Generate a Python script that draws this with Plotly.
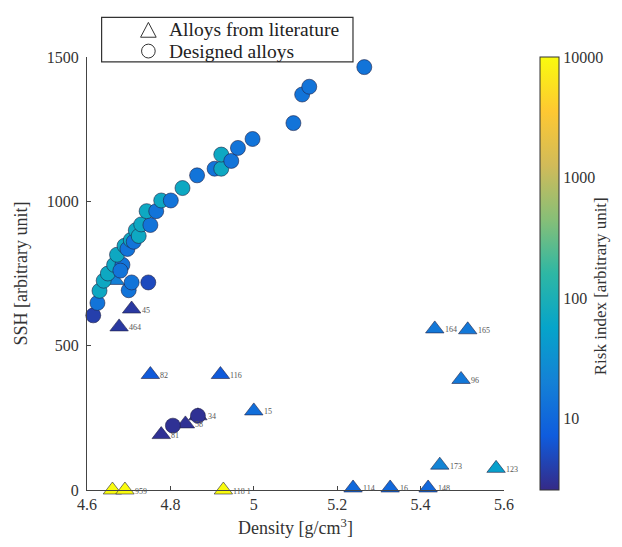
import numpy as np
import plotly.graph_objects as go

# Designed alloys (density, SSH, risk index)
des_density = [4.615, 4.625, 4.630, 4.640, 4.650, 4.665, 4.685, 4.672, 4.680, 4.690,
               4.697, 4.705, 4.712, 4.717, 4.724, 4.730, 4.752, 4.743, 4.766, 4.778,
               4.801, 4.829, 4.864, 4.906, 4.922, 4.922, 4.946, 4.962, 4.997, 5.095,
               5.116, 5.133, 5.265, 4.700, 4.707, 4.747, 4.806, 4.866]
des_ssh = [605, 648, 690, 725, 750, 780, 780, 815, 760, 846,
           835, 866, 860, 900, 880, 920, 918, 966, 966, 1003,
           1003, 1046, 1090, 1113, 1113, 1162, 1140, 1185, 1216, 1271,
           1370, 1397, 1465, 692, 719, 719, 223, 257]
des_risk = [4, 14, 70, 70, 70, 70, 14, 70, 14, 70,
            14, 70, 14, 70, 70, 70, 14, 70, 14, 70,
            14, 70, 14, 14, 70, 70, 14, 14, 14, 14,
            14, 14, 14, 14, 14, 5, 3, 3]

# Alloys from literature (density, SSH, risk index, label)
lit_density = [4.707, 4.677, 4.752, 4.920, 5.000, 4.778, 4.836, 4.866,
               4.661, 4.691, 4.927, 5.238, 5.327, 5.418, 5.446, 5.581,
               5.497, 5.434, 5.513, 4.668]
lit_ssh = [627, 565, 400, 400, 274, 192, 229, 257,
           0, 0, 0, 7, 7, 7, 86, 75,
           383, 558, 555, 726]
lit_risk = [3.5, 3.5, 7, 7, 12, 3, 3, 3,
            10000, 10000, 10000, 10, 10, 10, 22, 50,
            16, 16, 16, 20]
lit_labels = ["45", "464", "82", "116", "15", "81", "58", "34",
              "", "959", "118 1", "114", "16", "148", "173", "123",
              "96", "164", "165", ""]

legend_names = ["Alloys from literature", "Designed alloys"]

parula = [[0.0, "#352a87"], [0.125, "#0f5cdd"], [0.25, "#1481d6"], [0.375, "#06a4ca"],
          [0.5, "#2eb7a4"], [0.625, "#87bf77"], [0.75, "#d1bb59"], [0.875, "#fec832"],
          [1.0, "#f9fb0e"]]
cmin, cmax = 0.41, 4.0
cb_ticks = [1, 2, 3, 4]
cb_text = ["10", "100", "1000", "10000"]

serif = "Liberation Serif"

fig = go.Figure()

# literature triangles
fig.add_trace(go.Scatter(
    x=lit_density, y=lit_ssh, mode="markers", showlegend=False, cliponaxis=False,
    marker=dict(symbol="triangle-up", size=16, color=np.log10(lit_risk),
                colorscale=parula, cmin=cmin, cmax=cmax,
                line=dict(color="#222244", width=0.6), showscale=False)))

# designed circles
fig.add_trace(go.Scatter(
    x=des_density, y=des_ssh, mode="markers", showlegend=False, cliponaxis=False,
    marker=dict(symbol="circle", size=15, color=np.log10(des_risk),
                colorscale=parula, cmin=cmin, cmax=cmax,
                line=dict(color="#222244", width=0.6),
                showscale=True,
                colorbar=dict(
                    tickvals=cb_ticks, ticktext=cb_text,
                    x=1.063, xanchor="left", y=0.5, yanchor="middle",
                    len=1.0, lenmode="fraction", thickness=19, ypad=0,
                    outlinewidth=1, outlinecolor="#333333",
                    ticks="", tickfont=dict(family=serif, size=16, color="#333333")))))

# labels next to literature alloys
for xd, yd, lab in zip(lit_density, lit_ssh, lit_labels):
    if lab:
        fig.add_annotation(x=xd, y=yd, text=lab, showarrow=False, xanchor="left",
                           xshift=8, yshift=-1,
                           font=dict(family=serif, size=8, color="#555555"))

# colorbar title
fig.add_annotation(x=1.232, y=0.47, xref="paper", yref="paper", xanchor="center",
                   yanchor="middle", textangle=-90, showarrow=False,
                   text="Risk index [arbitrary unit]",
                   font=dict(family=serif, size=17, color="#333333"))

# manual legend box (pixel-to-paper helpers)
def px(x):
    return (x - 82) / 428.0

def py(y):
    return (495 - y) / 438.0

fig.add_shape(type="rect", xref="paper", yref="paper",
              x0=px(97), x1=px(355), y0=py(62), y1=py(17),
              line=dict(color="#333333", width=1.2), fillcolor="white", layer="above")
fig.add_shape(type="path", xref="paper", yref="paper",
              path=f"M {px(137)} {py(37)} L {px(153)} {py(37)} L {px(145)} {py(22)} Z",
              line=dict(color="#333333", width=1), fillcolor="rgba(0,0,0,0)", layer="above")
fig.add_shape(type="circle", xref="paper", yref="paper",
              x0=px(138), x1=px(152), y0=py(58), y1=py(44),
              line=dict(color="#333333", width=1), fillcolor="rgba(0,0,0,0)", layer="above")
for i, name in enumerate(legend_names):
    fig.add_annotation(x=px(164), y=py(29 + 22 * i), xref="paper", yref="paper",
                       xanchor="left", yanchor="middle", showarrow=False, text=name,
                       font=dict(family=serif, size=19.5, color="#222222"))

axis_common = dict(showgrid=False, zeroline=False, showline=True, linecolor="#444444",
                   linewidth=1, ticks="inside", ticklen=4, tickcolor="#444444",
                   tickfont=dict(family=serif, size=16, color="#333333"))

fig.update_xaxes(range=[4.6, 5.6], tickvals=[4.6, 4.8, 5.0, 5.2, 5.4, 5.6],
                 ticktext=["4.6", "4.8", "5", "5.2", "5.4", "5.6"],
                 title=dict(text="Density [g/cm<sup>3</sup>]", standoff=9,
                            font=dict(family=serif, size=18, color="#333333")),
                 **axis_common)
fig.update_yaxes(range=[0, 1500], tickvals=[0, 500, 1000, 1500], ticklabelstandoff=4,
                 title=dict(text="SSH [arbitrary unit]", standoff=14,
                            font=dict(family=serif, size=18, color="#333333")),
                 **axis_common)

fig.update_layout(
    width=614, height=539,
    margin=dict(l=74, r=112, t=49, b=52),
    paper_bgcolor="white", plot_bgcolor="white",
    showlegend=False,
)

fig.write_html("out.html")
